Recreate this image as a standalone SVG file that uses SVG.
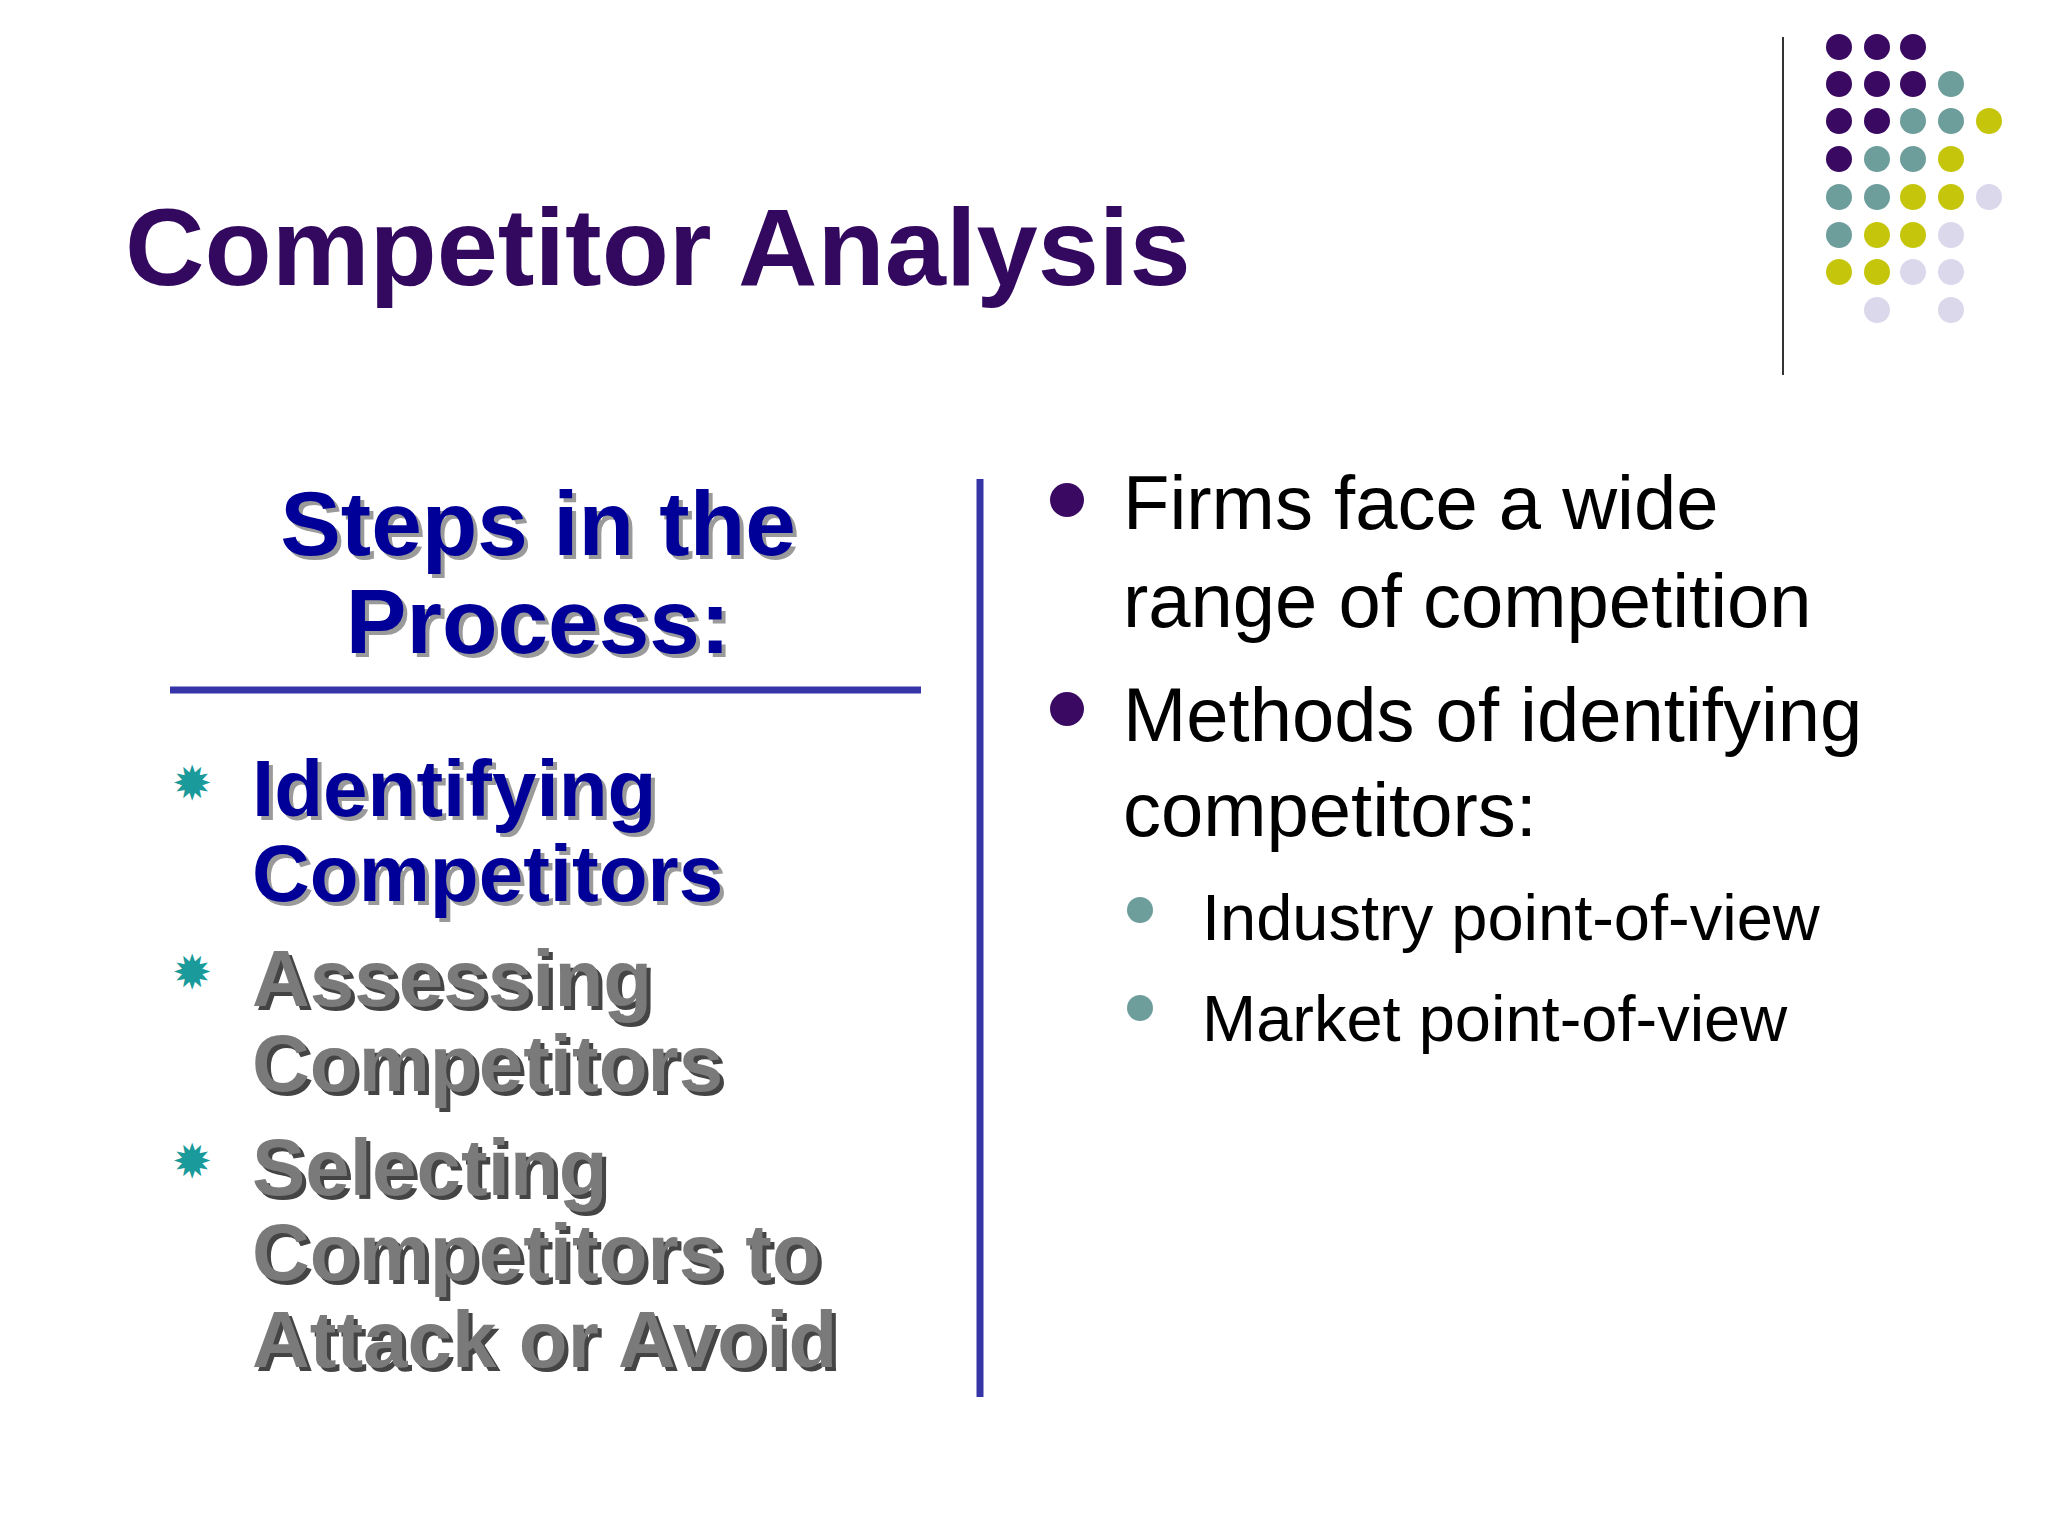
<svg xmlns="http://www.w3.org/2000/svg" width="2048" height="1536" viewBox="0 0 2048 1536">
<style>
text{font-family:"Liberation Sans",Arial,sans-serif}
.title{font-size:110px;font-weight:bold;fill:#33085f}
.hd{font-size:91px;font-weight:bold;fill:#000099}
.st{font-size:80px;font-weight:bold}
.shd{fill:#9a9a9a}
.b{font-size:76px;fill:#000}
.sb{font-size:65px;fill:#000}
.p{fill:#3a0a63}.t{fill:#6e9e9c}.y{fill:#c5c60c}.l{fill:#dcd8ec}
</style>
<rect width="2048" height="1536" fill="#fff"/>
<g id="dots">
<circle class="p" cx="1839" cy="47" r="13"/><circle class="p" cx="1877" cy="47" r="13"/><circle class="p" cx="1913" cy="47" r="13"/>
<circle class="p" cx="1839" cy="84" r="13"/><circle class="p" cx="1877" cy="84" r="13"/><circle class="p" cx="1913" cy="84" r="13"/><circle class="t" cx="1951" cy="84" r="13"/>
<circle class="p" cx="1839" cy="121" r="13"/><circle class="p" cx="1877" cy="121" r="13"/><circle class="t" cx="1913" cy="121" r="13"/><circle class="t" cx="1951" cy="121" r="13"/><circle class="y" cx="1989" cy="121" r="13"/>
<circle class="p" cx="1839" cy="159" r="13"/><circle class="t" cx="1877" cy="159" r="13"/><circle class="t" cx="1913" cy="159" r="13"/><circle class="y" cx="1951" cy="159" r="13"/>
<circle class="t" cx="1839" cy="197" r="13"/><circle class="t" cx="1877" cy="197" r="13"/><circle class="y" cx="1913" cy="197" r="13"/><circle class="y" cx="1951" cy="197" r="13"/><circle class="l" cx="1989" cy="197" r="13"/>
<circle class="t" cx="1839" cy="235" r="13"/><circle class="y" cx="1877" cy="235" r="13"/><circle class="y" cx="1913" cy="235" r="13"/><circle class="l" cx="1951" cy="235" r="13"/>
<circle class="y" cx="1839" cy="272" r="13"/><circle class="y" cx="1877" cy="272" r="13"/><circle class="l" cx="1913" cy="272" r="13"/><circle class="l" cx="1951" cy="272" r="13"/>
<circle class="l" cx="1877" cy="310" r="13"/><circle class="l" cx="1951" cy="310" r="13"/>
</g>
<line x1="1783" y1="37" x2="1783" y2="375" stroke="#333" stroke-width="2"/>
<text class="title" x="125" y="285">Competitor Analysis</text>
<g id="left">
<text class="hd shd" x="542" y="559" text-anchor="middle">Steps in the</text>
<text class="hd" x="538" y="555" text-anchor="middle">Steps in the</text>
<text class="hd shd" x="542" y="657" text-anchor="middle">Process:</text>
<text class="hd" x="538" y="653" text-anchor="middle">Process:</text>
<line x1="170" y1="690" x2="921" y2="690" stroke="#3535a8" stroke-width="7"/>
<line x1="980" y1="479" x2="980" y2="1397" stroke="#3535a8" stroke-width="7"/>
<g fill="#1a9a9a" font-size="48" font-family="DejaVu Sans,sans-serif">
<text x="172" y="800">✹</text><text x="172" y="989">✹</text><text x="172" y="1178">✹</text>
</g>
<g class="st">
<text class="shd" x="256" y="820">Identifying</text><text fill="#000099" x="252" y="816">Identifying</text>
<text class="shd" x="256" y="905">Competitors</text><text fill="#000099" x="252" y="901">Competitors</text>
<text fill="#444" x="256" y="1010">Assessing</text><text fill="#7a7a7a" x="252" y="1006">Assessing</text>
<text fill="#444" x="256" y="1095">Competitors</text><text fill="#7a7a7a" x="252" y="1091">Competitors</text>
<text fill="#444" x="256" y="1199">Selecting</text><text fill="#7a7a7a" x="252" y="1195">Selecting</text>
<text fill="#444" x="256" y="1284">Competitors to</text><text fill="#7a7a7a" x="252" y="1280">Competitors to</text>
<text fill="#444" x="256" y="1371">Attack or Avoid</text><text fill="#7a7a7a" x="252" y="1367">Attack or Avoid</text>
</g>
</g>
<g id="right">
<circle class="p" cx="1067" cy="500" r="17"/><circle class="p" cx="1067" cy="709" r="17"/>
<text class="b" x="1123" y="529">Firms face a wide</text>
<text class="b" x="1123" y="627">range of competition</text>
<text class="b" x="1123" y="741">Methods of identifying</text>
<text class="b" x="1123" y="836">competitors:</text>
<circle class="t" cx="1140" cy="910" r="13"/><circle class="t" cx="1140" cy="1008" r="13"/>
<text class="sb" x="1202" y="940">Industry point-of-view</text>
<text class="sb" x="1202" y="1041">Market point-of-view</text>
</g>
</svg>
